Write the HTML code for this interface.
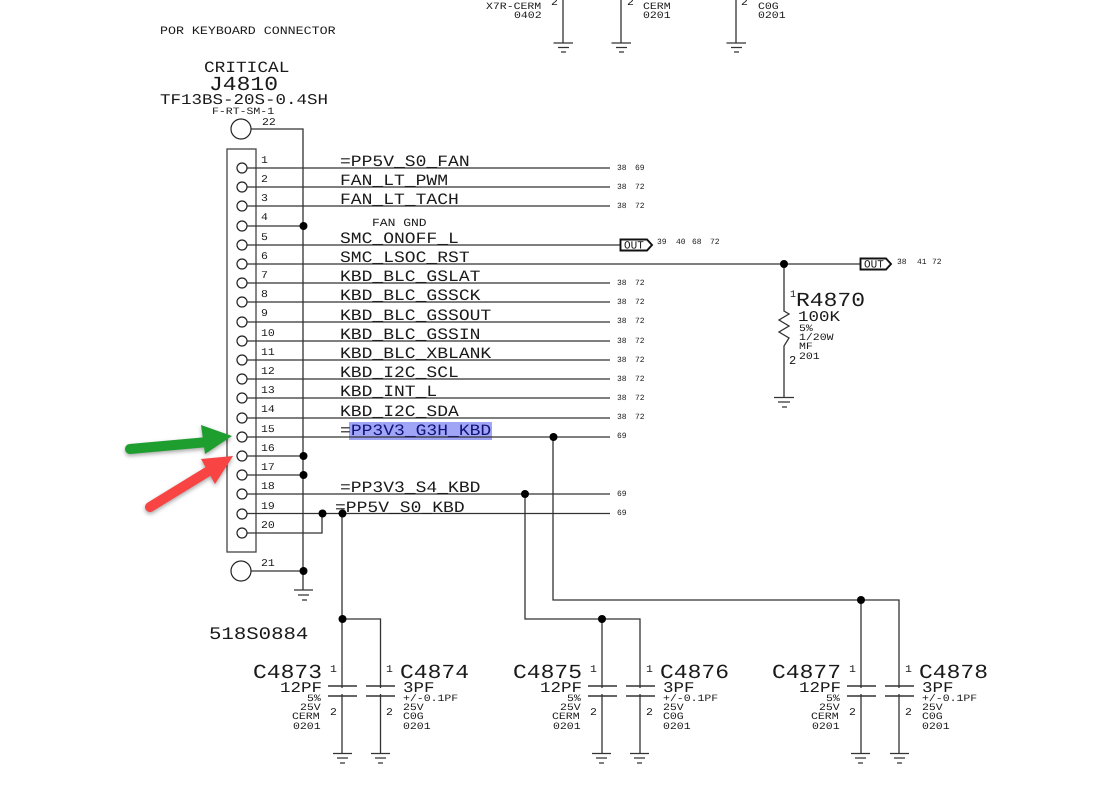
<!DOCTYPE html>
<html>
<head>
<meta charset="utf-8">
<style>
html,body{margin:0;padding:0;background:#fff;width:1115px;height:789px;overflow:hidden}
svg{display:block;filter:blur(.3px)}
text{font-family:"Liberation Mono",monospace;fill:#1a1a1a;white-space:pre;text-rendering:geometricPrecision;transform-box:fill-box;transform-origin:0 100%}
.w{fill:none;stroke:#333;stroke-width:1.3}
.c{fill:#fff;stroke:#222;stroke-width:1.2}
.d{fill:#000}
.net{font-size:18px;transform:translateY(-.65px) scaleY(.88)}
.pin{font-size:11.500px;transform:translateY(-.35px) scaleY(.9)}
.sm{font-size:8px}
.ref{font-size:23px;transform:translateY(-.9px) scaleY(.87)}
.val{font-size:17.500px;transform:translateY(-.8px) scaleY(.85)}
.tiny{font-size:11.500px;transform:translateY(-.5px) scaleY(.85)}
.por{font-size:13.300px;transform:translateY(-.6px) scaleY(.85)}
.crit{font-size:17.800px;transform:translateY(-.6px) scaleY(.88)}
.fan{font-size:13px;transform:translateY(-.6px) scaleY(.85)}
.part{font-size:20.700px;transform:translateY(-.9px) scaleY(.85)}
.flag{fill:#fff;stroke:#111;stroke-width:1.9}
.ft{font-size:11px}
</style>
</head>
<body>
<svg width="1115" height="789" viewBox="0 0 1115 789" xmlns="http://www.w3.org/2000/svg">
<rect x="349" y="422" width="143" height="18" fill="#a0a5f5"/>

<!-- top fragments -->
<path class="w" d="M563 0V43M621 0V43M736 0V43"/>
<path class="w" d="M553.500 43H573M558 47.500H569M561 52H566M611.500 43H631M616 47.500H627M619 52H624M726.500 43H746M731 47.500H742M734 52H739"/>
<text class="tiny" x="486" y="9">X7R-CERM</text><text class="tiny" x="514" y="18">0402</text>
<text class="pin" x="551" y="5">2</text><text class="pin" x="627" y="5">2</text><text class="pin" x="741" y="5">2</text>
<text class="tiny" x="643" y="9">CERM</text><text class="tiny" x="643" y="18">0201</text>
<text class="tiny" x="758" y="9">C0G</text><text class="tiny" x="758" y="18">0201</text>

<text class="por" x="160" y="34">POR KEYBOARD CONNECTOR</text>
<text class="crit" x="204" y="72">CRITICAL</text>
<text class="ref" x="209" y="90">J4810</text>
<text class="val" x="160" y="104">TF13BS-20S-0.4SH</text>
<text class="tiny" x="212" y="114">F-RT-SM-1</text>
<text class="pin" x="262" y="125">22</text>
<text class="part" x="209" y="639">518S0884</text>

<!-- connector -->
<rect x="227" y="149" width="29" height="403" fill="none" stroke="#444" stroke-width="1.3"/>

<!-- wires -->
<path class="w" d="M251 129H303V590"/>
<path class="w" d="M247 168H610M247 187H610M247 206H610M247 226H303M247 245H620M247 264H860M247 283H610M247 302H610M247 322H610M247 341H610M247 360H610M247 379H610M247 398H610M247 418H610M247 437H610M247 456H303M247 475H303M247 494H610M247 513.500H610M247 533H322V513.500M251 571H303"/>
<path class="w" d="M342 513.500V753M342 619H380.500V753"/>
<path class="w" d="M525 494V619H640V753M602 619V753"/>
<path class="w" d="M553 437V600H899V753M861 600V753"/>
<path class="w" d="M784 264V311L789 314 779 320 789 326 779 332 789 338 784 346V397"/>

<!-- cap plates masks -->
<rect x="325" y="688" width="600" height="6" fill="#fff"/>
<path stroke="#333" stroke-width="1.500" fill="none" d="M328 686H357M366 686H395M328 696H357M366 696H395M588 686H617M626 686H655M588 696H617M626 696H655M847 686H876M885 686H914M847 696H876M885 696H914"/>

<!-- grounds -->
<path class="w" d="M294 590H313M298 595H309M302 600H307M774 397.500H794M778 402H790M782 407H787"/>
<path class="w" d="M333 753.500H352M337 758H348M340 763H345M371 753.500H390M375 758H386M378 763H383M592 753.500H611M596 758H607M599 763H604M630 753.500H649M634 758H645M637 763H642M851 753.500H870M855 758H866M858 763H863M890 753.500H909M894 758H905M897 763H902"/>

<!-- pins -->
<circle class="c" cx="241" cy="129" r="10"/><circle class="c" cx="241" cy="571" r="10"/>
<g>
<circle class="c" cx="242" cy="168" r="5"/><circle class="c" cx="242" cy="187" r="5"/><circle class="c" cx="242" cy="206" r="5"/><circle class="c" cx="242" cy="226" r="5"/><circle class="c" cx="242" cy="245" r="5"/><circle class="c" cx="242" cy="264" r="5"/><circle class="c" cx="242" cy="283" r="5"/><circle class="c" cx="242" cy="302" r="5"/><circle class="c" cx="242" cy="322" r="5"/><circle class="c" cx="242" cy="341" r="5"/><circle class="c" cx="242" cy="360" r="5"/><circle class="c" cx="242" cy="379" r="5"/><circle class="c" cx="242" cy="398" r="5"/><circle class="c" cx="242" cy="418" r="5"/><circle class="c" cx="242" cy="437" r="5"/><circle class="c" cx="242" cy="456" r="5"/><circle class="c" cx="242" cy="475" r="5"/><circle class="c" cx="242" cy="494" r="5"/><circle class="c" cx="242" cy="514" r="5"/><circle class="c" cx="242" cy="533" r="5"/>
</g>

<!-- dots -->
<circle class="d" cx="303.500" cy="226" r="4"/><circle class="d" cx="303.500" cy="456" r="4"/><circle class="d" cx="303.500" cy="475" r="4"/><circle class="d" cx="303.500" cy="571" r="4"/><circle class="d" cx="322.500" cy="513.500" r="4"/><circle class="d" cx="342.500" cy="513.500" r="4"/><circle class="d" cx="342.500" cy="619" r="4"/><circle class="d" cx="525" cy="494" r="4"/><circle class="d" cx="553.500" cy="437" r="4"/><circle class="d" cx="602" cy="619" r="4"/><circle class="d" cx="861" cy="600" r="4"/><circle class="d" cx="784" cy="264" r="4"/>

<!-- pin numbers -->
<text class="pin" x="261" y="163">1</text><text class="pin" x="261" y="182">2</text><text class="pin" x="261" y="201">3</text><text class="pin" x="261" y="220">4</text><text class="pin" x="261" y="240">5</text><text class="pin" x="261" y="259">6</text><text class="pin" x="261" y="278">7</text><text class="pin" x="261" y="297">8</text><text class="pin" x="261" y="316">9</text><text class="pin" x="261" y="336">10</text><text class="pin" x="261" y="355">11</text><text class="pin" x="261" y="374">12</text><text class="pin" x="261" y="393">13</text><text class="pin" x="261" y="412">14</text><text class="pin" x="261" y="432">15</text><text class="pin" x="261" y="451">16</text><text class="pin" x="261" y="470">17</text><text class="pin" x="261" y="489">18</text><text class="pin" x="261" y="509">19</text><text class="pin" x="261" y="528">20</text><text class="pin" x="261" y="566">21</text>

<!-- net labels -->
<text class="net" x="340" y="166">=PP5V_S0_FAN</text>
<text class="net" x="340" y="185">FAN_LT_PWM</text>
<text class="net" x="340" y="204">FAN_LT_TACH</text>
<text class="fan" x="372" y="226">FAN GND</text>
<text class="net" x="340" y="243">SMC_ONOFF_L</text>
<text class="net" x="340" y="262">SMC_LSOC_RST</text>
<text class="net" x="340" y="281">KBD_BLC_GSLAT</text>
<text class="net" x="340" y="300">KBD_BLC_GSSCK</text>
<text class="net" x="340" y="320">KBD_BLC_GSSOUT</text>
<text class="net" x="340" y="339">KBD_BLC_GSSIN</text>
<text class="net" x="340" y="358">KBD_BLC_XBLANK</text>
<text class="net" x="340" y="377">KBD_I2C_SCL</text>
<text class="net" x="340" y="396">KBD_INT_L</text>
<text class="net" x="340" y="416">KBD_I2C_SDA</text>
<text class="net" x="340" y="435">=<tspan style="fill:#12127a">PP3V3_G3H_KBD</tspan></text>
<text class="net" x="340" y="492">=PP3V3_S4_KBD</text>
<text class="net" x="335" y="512">=PP5V_S0_KBD</text>

<!-- page refs -->
<text class="sm" x="617" y="170">38</text><text class="sm" x="635" y="170">69</text>
<text class="sm" x="617" y="189">38</text><text class="sm" x="635" y="189">72</text>
<text class="sm" x="617" y="208">38</text><text class="sm" x="635" y="208">72</text>
<text class="sm" x="617" y="285">38</text><text class="sm" x="635" y="285">72</text>
<text class="sm" x="617" y="304">38</text><text class="sm" x="635" y="304">72</text>
<text class="sm" x="617" y="323">38</text><text class="sm" x="635" y="323">72</text>
<text class="sm" x="617" y="343">38</text><text class="sm" x="635" y="343">72</text>
<text class="sm" x="617" y="362">38</text><text class="sm" x="635" y="362">72</text>
<text class="sm" x="617" y="381">38</text><text class="sm" x="635" y="381">72</text>
<text class="sm" x="617" y="400">38</text><text class="sm" x="635" y="400">72</text>
<text class="sm" x="617" y="419">38</text><text class="sm" x="635" y="419">72</text>
<text class="sm" x="617" y="438">69</text>
<text class="sm" x="617" y="496">69</text>
<text class="sm" x="617" y="515">69</text>
<text class="sm" x="657" y="244">39</text><text class="sm" x="676" y="244">40</text><text class="sm" x="692" y="244">68</text><text class="sm" x="710" y="244">72</text>
<text class="sm" x="897" y="264">38</text><text class="sm" x="917" y="264">41</text><text class="sm" x="932" y="264">72</text>

<!-- OUT flags -->
<path class="flag" d="M620.500 239.500H647L652 245 647 250.500H620.500Z"/>
<text class="ft" x="624" y="248.500">OUT</text>
<path class="flag" d="M860.500 258.500H886L891 264 886 269.500H860.500Z"/>
<text class="ft" x="864" y="267.500">OUT</text>

<!-- resistor -->
<text x="790" y="297" style="font-size:10px">1</text>
<text class="ref" x="796" y="306">R4870</text>
<text class="val" x="798" y="321">100K</text>
<text class="tiny" x="799" y="331">5%</text>
<text class="tiny" x="799" y="340">1/20W</text>
<text class="tiny" x="799" y="349">MF</text>
<text class="tiny" x="799" y="359">201</text>
<text x="789" y="364" style="font-size:12px">2</text>

<!-- C4873 / C4874 -->
<text class="ref" x="253" y="678">C4873</text>
<text class="val" x="280" y="692">12PF</text>
<text class="tiny" x="307" y="701">5%</text><text class="tiny" x="300" y="710">25V</text><text class="tiny" x="292" y="719">CERM</text><text class="tiny" x="293" y="729">0201</text>
<text class="pin" x="330" y="672">1</text><text class="pin" x="330" y="715">2</text>
<text class="pin" x="386" y="672">1</text><text class="pin" x="386" y="715">2</text>
<text class="ref" x="400" y="678">C4874</text>
<text class="val" x="403" y="692">3PF</text>
<text class="tiny" x="403" y="701">+/-0.1PF</text><text class="tiny" x="403" y="710">25V</text><text class="tiny" x="403" y="719">C0G</text><text class="tiny" x="403" y="729">0201</text>

<!-- C4875 / C4876 -->
<text class="ref" x="513" y="678">C4875</text>
<text class="val" x="540" y="692">12PF</text>
<text class="tiny" x="567" y="701">5%</text><text class="tiny" x="560" y="710">25V</text><text class="tiny" x="552" y="719">CERM</text><text class="tiny" x="553" y="729">0201</text>
<text class="pin" x="590" y="672">1</text><text class="pin" x="590" y="715">2</text>
<text class="pin" x="646" y="672">1</text><text class="pin" x="646" y="715">2</text>
<text class="ref" x="660" y="678">C4876</text>
<text class="val" x="663" y="692">3PF</text>
<text class="tiny" x="663" y="701">+/-0.1PF</text><text class="tiny" x="663" y="710">25V</text><text class="tiny" x="663" y="719">C0G</text><text class="tiny" x="663" y="729">0201</text>

<!-- C4877 / C4878 -->
<text class="ref" x="772" y="678">C4877</text>
<text class="val" x="799" y="692">12PF</text>
<text class="tiny" x="826" y="701">5%</text><text class="tiny" x="819" y="710">25V</text><text class="tiny" x="811" y="719">CERM</text><text class="tiny" x="812" y="729">0201</text>
<text class="pin" x="849" y="672">1</text><text class="pin" x="849" y="715">2</text>
<text class="pin" x="905" y="672">1</text><text class="pin" x="905" y="715">2</text>
<text class="ref" x="919" y="678">C4878</text>
<text class="val" x="922" y="692">3PF</text>
<text class="tiny" x="922" y="701">+/-0.1PF</text><text class="tiny" x="922" y="710">25V</text><text class="tiny" x="922" y="719">C0G</text><text class="tiny" x="922" y="729">0201</text>

<!-- arrows -->
<g style="filter:drop-shadow(0 2px 2px rgba(0,0,0,.35))">
<path d="M130 449L208 442" stroke="#1f9e30" stroke-width="10" stroke-linecap="round" fill="none"/>
<path d="M201 425L232 436 205 454Z" fill="#1f9e30"/>
</g>
<g style="filter:drop-shadow(0 2px 2px rgba(0,0,0,.35))">
<path d="M150 507L212 469" stroke="#f94444" stroke-width="10" stroke-linecap="round" fill="none"/>
<path d="M201 459L233 456 215 484Z" fill="#f94444"/>
</g>
</svg>
</body>
</html>
